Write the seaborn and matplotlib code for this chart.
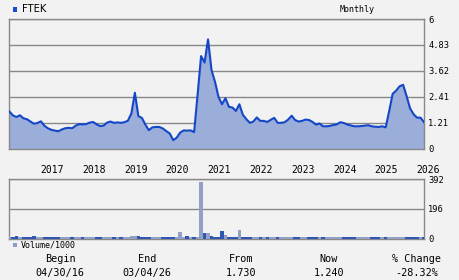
import matplotlib
matplotlib.use("Agg")
import matplotlib.pyplot as plt
import matplotlib.transforms as mtransforms
from matplotlib.patches import Rectangle
import numpy as np
import pandas as pd
import seaborn as sns

# ---------------- data (monthly, 04/2016 .. 03/2026) ----------------
price = [
    1.73, 1.55, 1.48, 1.56, 1.42, 1.38, 1.27, 1.17, 1.20, 1.28,
    1.08, 0.96, 0.89, 0.85, 0.82, 0.90, 0.96, 0.98, 0.96, 1.08,
    1.15, 1.14, 1.15, 1.22, 1.25, 1.14, 1.06, 1.08, 1.22, 1.27,
    1.21, 1.23, 1.21, 1.24, 1.31, 1.65, 2.60, 1.52, 1.44, 1.13,
    0.87, 1.00, 1.02, 1.02, 0.95, 0.83, 0.72, 0.41, 0.52, 0.76,
    0.86, 0.85, 0.86, 0.78, 2.50, 4.30, 4.00, 5.07, 3.65, 3.11,
    2.41, 2.07, 2.35, 1.95, 1.92, 1.76, 2.07, 1.58, 1.38, 1.21,
    1.27, 1.46, 1.30, 1.30, 1.25, 1.35, 1.44, 1.21, 1.21, 1.24,
    1.36, 1.54, 1.34, 1.27, 1.30, 1.36, 1.34, 1.25, 1.13, 1.18,
    1.05, 1.05, 1.07, 1.11, 1.14, 1.24, 1.20, 1.13, 1.09, 1.05,
    1.05, 1.06, 1.08, 1.10, 1.05, 1.03, 1.02, 1.05, 1.00, 1.75,
    2.55, 2.70, 2.90, 2.97, 2.45, 1.88, 1.61, 1.45, 1.45, 1.24,
]
volume = [
    13, 12, 14, 12, 13, 11, 12, 14, 13, 12,
    12, 13, 11, 12, 12, 11, 13, 12, 11, 12,
    12, 11, 12, 13, 12, 11, 12, 11, 12, 12,
    11, 12, 11, 12, 13, 14, 15, 14, 12, 11,
    11, 10, 11, 11, 12, 11, 12, 13, 11, 42,
    11, 16, 11, 11, 12, 372, 35, 35, 16, 10,
    10, 49, 22, 10, 10, 10, 55, 10, 10, 10,
    11, 11, 10, 10, 11, 10, 11, 10, 10, 11,
    11, 10, 11, 10, 10, 11, 10, 11, 10, 10,
    11, 10, 10, 11, 10, 10, 11, 10, 10, 11,
    10, 11, 10, 10, 11, 10, 11, 10, 10, 11,
    12, 11, 11, 10, 11, 10, 10, 10, 11, 11,
]
year_labels = ["2017", "2018", "2019", "2020", "2021",
               "2022", "2023", "2024", "2025", "2026"]
price_ticks = [0, 1.21, 2.41, 3.62, 4.83, 6]
price_tick_labels = ["0", "1.21", "2.41", "3.62", "4.83", "6"]
vol_ticks = [0, 196, 392]
vol_tick_labels = ["0", "196", "392"]
ticker = "FTEK"
summary_heads = ["Begin", "End", "From", "Now", "% Change"]
summary_vals = ["04/30/16", "03/04/26", "1.730", "1.240", "-28.32%"]

# ---------------- styling ----------------
BG = "#f2f2f2"
LINE = "#1446c8"
FILL = "#9badd9"
UP = "#8a9ccc"
DOWN = "#1a4dcc"
GRID = "#888888"
MONO = "DejaVu Sans Mono"

W, H = 460, 280
fig = plt.figure(figsize=(W / 100, H / 100), dpi=100, facecolor=BG)

def fx(px):
    return px / W

def fy(py):
    return 1 - py / H

L, R = 9.5, 424.0
ax1 = fig.add_axes([fx(L), fy(149), fx(R - L), (149 - 19.3) / H])
ax2 = fig.add_axes([fx(L), fy(238.5), fx(R - L), (238.5 - 179.3) / H])

df = pd.DataFrame({"i": np.arange(len(price)), "price": price, "volume": volume})
df["dir"] = np.where(df["price"].diff().fillna(0) >= 0, "up", "down")

for ax in (ax1, ax2):
    ax.set_facecolor(BG)
    for s in ax.spines.values():
        s.set_color(GRID)
        s.set_linewidth(1.0)
    ax.tick_params(length=0, labelsize=6.3, pad=3, colors="black")

# price panel
ax1.fill_between(df["i"], df["price"], 0, color=FILL, lw=0, zorder=2)
sns.lineplot(data=df, x="i", y="price", ax=ax1, color=LINE, linewidth=1.5,
             zorder=3)
ax1.set_xlim(0, len(price) - 1)
ax1.set_ylim(0, 6)
ax1.yaxis.tick_right()
ax1.set_yticks(price_ticks)
ax1.set_yticklabels(price_tick_labels, family=MONO)
ax1.set_xticks([])
ax1.grid(axis="y", color=GRID, linewidth=1.0, zorder=1)
ax1.set_axisbelow(True)
ax1.set_xlabel("")
ax1.set_ylabel("")

# volume panel
sns.barplot(data=df, x="i", y="volume", hue="dir", palette={"up": UP, "down": DOWN},
            native_scale=True, dodge=False, width=1.0, legend=False, ax=ax2,
            linewidth=0, zorder=3)
ax2.set_xlim(0, len(price) - 1)
ax2.set_ylim(0, 392)
ax2.yaxis.tick_right()
ax2.set_yticks(vol_ticks)
ax2.set_yticklabels(vol_tick_labels, family=MONO)
ax2.set_xticks([])
ax2.grid(axis="y", color=GRID, linewidth=1.0, zorder=1)
ax2.set_axisbelow(True)
ax2.set_xlabel("")
ax2.set_ylabel("")

# year labels between panels
tr = mtransforms.blended_transform_factory(ax2.transData, fig.transFigure)
for k, lab in enumerate(year_labels):
    ax2.text(12 * (k + 1) + 0.2, fy(170), lab, transform=tr, ha="center",
             va="center", fontsize=7, family=MONO, clip_on=False)

# header
fig.patches.append(Rectangle((fx(12.8), fy(11.6)), fx(4.6), 4.8 / H,
                             transform=fig.transFigure, color=DOWN, lw=0))
fig.text(fx(22.5), fy(9), ticker, fontsize=7.2, va="center", ha="left",
         family="DejaVu Sans")
fig.text(fx(357), fy(9), "Monthly", fontsize=6, va="center", ha="center",
         family=MONO)

# volume legend
fig.patches.append(Rectangle((fx(12.8), fy(247.4)), fx(4.4), 4.2 / H,
                             transform=fig.transFigure, color=UP, lw=0))
fig.text(fx(20.5), fy(245.3), "Volume/1000", fontsize=6, va="center",
         ha="left", family=MONO)

# summary row
centers = [60, 147, 241, 329, 417]
for cx, h, v in zip(centers, summary_heads, summary_vals):
    fig.text(fx(cx), fy(259), h, fontsize=7.3, ha="center", va="center",
             family=MONO)
    fig.text(fx(cx), fy(273), v, fontsize=7.3, ha="center", va="center",
             family=MONO)

fig.savefig("out.png", dpi=100, facecolor=BG)
